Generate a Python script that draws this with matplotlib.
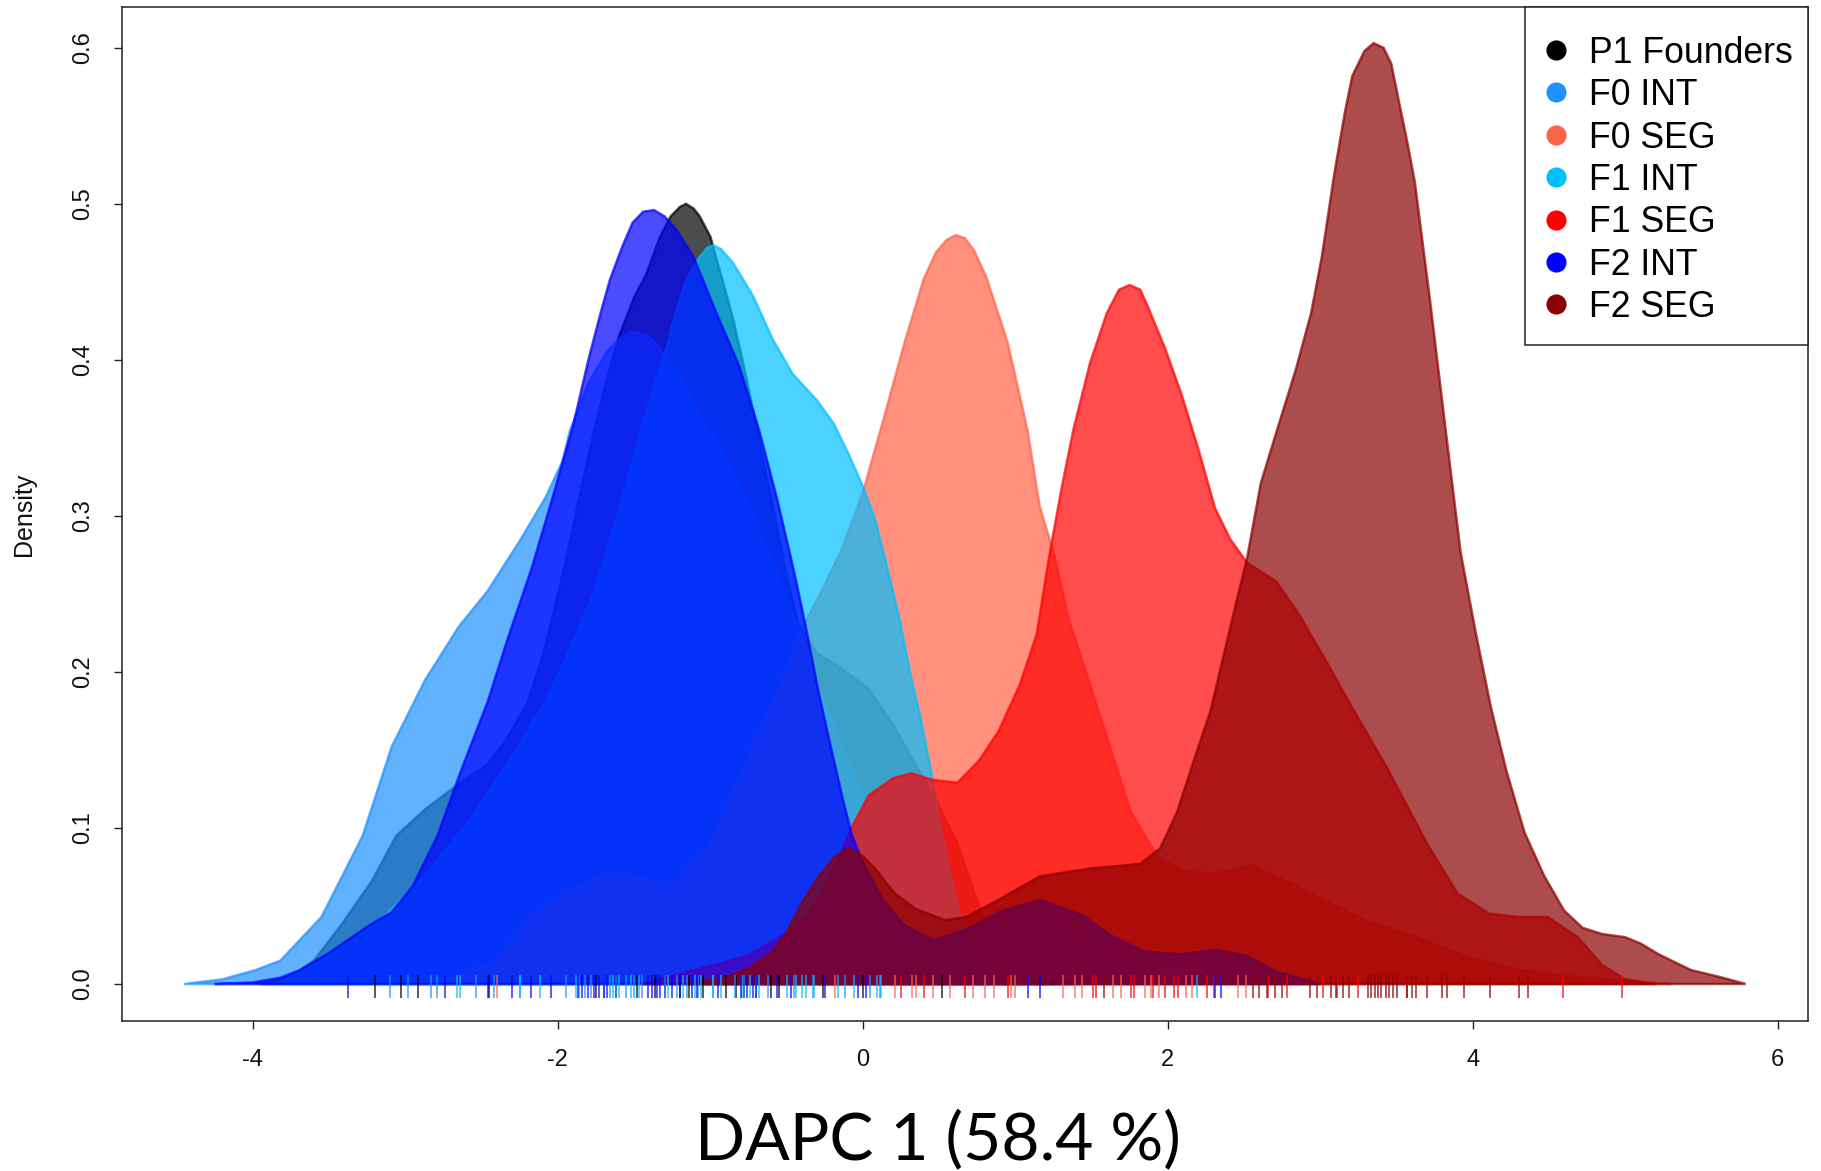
import matplotlib
matplotlib.use("Agg")
import matplotlib.pyplot as plt
from matplotlib.patches import Rectangle

# ---------------- data ----------------
groups = ["P1 Founders", "F0 INT", "F0 SEG", "F1 INT", "F1 SEG", "F2 INT", "F2 SEG"]
colors = ["#000000", "#1E90FF", "#FF6347", "#00BFFF", "#FF0000", "#0000FF", "#8B0000"]

p1_x = [-3.95, -3.75, -3.60, -3.42, -3.22, -3.06, -2.87, -2.68, -2.46, -2.35, -2.20, -2.10, -1.95, -1.82,
        -1.70, -1.60, -1.50, -1.42, -1.33, -1.26, -1.20, -1.16, -1.11, -1.07, -1.00, -0.92, -0.85, -0.76,
        -0.62, -0.50, -0.42, -0.30, -0.15, 0.04, 0.20, 0.36, 0.48, 0.62, 0.76, 0.89, 1.05, 1.25]
p1_y = [0.000, 0.005, 0.015, 0.038, 0.066, 0.095, 0.112, 0.126, 0.141, 0.155, 0.180, 0.210, 0.270, 0.330,
        0.380, 0.415, 0.440, 0.455, 0.479, 0.492, 0.498, 0.500, 0.497, 0.492, 0.479, 0.451, 0.426, 0.387,
        0.320, 0.262, 0.230, 0.212, 0.203, 0.189, 0.166, 0.138, 0.118, 0.090, 0.051, 0.018, 0.004, 0.000]

f0int_x = [-4.45, -4.20, -3.98, -3.82, -3.55, -3.28, -3.09, -2.87, -2.65, -2.46, -2.25, -2.08, -1.97, -1.92,
           -1.80, -1.68, -1.60, -1.51, -1.42, -1.35, -1.22, -1.10, -0.96, -0.83, -0.72, -0.62, -0.45, -0.25,
           0.00, 0.25, 0.50, 0.80, 1.10, 1.40]
f0int_y = [0.000, 0.003, 0.009, 0.015, 0.043, 0.095, 0.152, 0.195, 0.229, 0.252, 0.284, 0.312, 0.335, 0.355,
           0.385, 0.405, 0.413, 0.418, 0.416, 0.410, 0.392, 0.370, 0.347, 0.324, 0.300, 0.278, 0.235, 0.180,
           0.120, 0.070, 0.035, 0.012, 0.003, 0.000]

f0seg_x = [-2.95, -2.74, -2.40, -2.19, -2.00, -1.80, -1.65, -1.45, -1.24, -1.00, -0.83, -0.56, -0.42, -0.28,
           -0.14, 0.00, 0.13, 0.27, 0.40, 0.48, 0.55, 0.61, 0.67, 0.73, 0.81, 0.95, 1.08, 1.16, 1.25, 1.35,
           1.49, 1.63, 1.76, 1.93, 2.10, 2.31, 2.55, 2.84, 3.02, 3.29, 3.63, 3.97, 4.31, 4.63, 5.14, 5.30]
f0seg_y = [0.000, 0.003, 0.015, 0.043, 0.055, 0.066, 0.072, 0.068, 0.063, 0.090, 0.129, 0.187, 0.224, 0.250,
           0.278, 0.315, 0.360, 0.410, 0.452, 0.469, 0.477, 0.480, 0.478, 0.470, 0.453, 0.411, 0.355, 0.306,
           0.277, 0.234, 0.192, 0.149, 0.110, 0.082, 0.072, 0.071, 0.076, 0.063, 0.054, 0.041, 0.030, 0.017,
           0.009, 0.005, 0.001, 0.000]

f1int_x = [-3.85, -3.55, -3.14, -2.82, -2.55, -2.30, -2.08, -1.92, -1.76, -1.65, -1.54, -1.43, -1.29, -1.24,
           -1.16, -1.07, -1.02, -0.98, -0.93, -0.85, -0.72, -0.59, -0.46, -0.30, -0.19, -0.09, 0.00, 0.08,
           0.16, 0.24, 0.32, 0.38, 0.45, 0.51, 0.62, 0.73, 0.87, 1.00]
f1int_y = [0.000, 0.015, 0.043, 0.075, 0.109, 0.146, 0.181, 0.215, 0.252, 0.287, 0.324, 0.364, 0.407, 0.426,
           0.451, 0.466, 0.472, 0.4735, 0.471, 0.462, 0.441, 0.413, 0.391, 0.374, 0.359, 0.339, 0.319, 0.298,
           0.267, 0.234, 0.195, 0.170, 0.135, 0.100, 0.051, 0.018, 0.003, 0.000]

f1seg_x = [-1.45, -1.06, -0.76, -0.47, -0.30, -0.18, -0.07, 0.04, 0.20, 0.32, 0.45, 0.62, 0.76, 0.89, 1.03,
           1.14, 1.22, 1.30, 1.38, 1.49, 1.60, 1.68, 1.75, 1.82, 1.87, 1.98, 2.09, 2.20, 2.31, 2.41, 2.52,
           2.71, 2.86, 3.05, 3.21, 3.43, 3.70, 3.90, 4.11, 4.30, 4.49, 4.69, 4.85, 5.00, 5.20]
f1seg_y = [0.000, 0.010, 0.018, 0.034, 0.052, 0.075, 0.101, 0.121, 0.132, 0.135, 0.131, 0.129, 0.143, 0.162,
           0.192, 0.224, 0.273, 0.316, 0.355, 0.398, 0.430, 0.445, 0.448, 0.445, 0.434, 0.408, 0.378, 0.343,
           0.305, 0.285, 0.270, 0.258, 0.237, 0.205, 0.177, 0.140, 0.090, 0.058, 0.045, 0.043, 0.043, 0.030,
           0.012, 0.003, 0.000]

f2int_x = [-4.25, -4.00, -3.82, -3.69, -3.50, -3.23, -3.09, -2.95, -2.79, -2.63, -2.46, -2.33, -2.17, -2.04,
           -1.90, -1.80, -1.72, -1.66, -1.58, -1.51, -1.44, -1.37, -1.30, -1.22, -1.11, -0.96, -0.81, -0.68,
           -0.56, -0.45, -0.37, -0.29, -0.21, -0.13, -0.07, 0.00, 0.13, 0.27, 0.46, 0.68, 0.89, 1.16, 1.44,
           1.63, 1.84, 2.09, 2.31, 2.52, 2.71, 3.00]
f2int_y = [0.000, 0.001, 0.004, 0.009, 0.020, 0.038, 0.046, 0.063, 0.095, 0.138, 0.181, 0.221, 0.267, 0.310,
           0.358, 0.400, 0.430, 0.451, 0.472, 0.488, 0.495, 0.496, 0.492, 0.483, 0.466, 0.430, 0.396, 0.355,
           0.310, 0.264, 0.227, 0.187, 0.152, 0.118, 0.095, 0.078, 0.054, 0.038, 0.028, 0.035, 0.046, 0.054,
           0.044, 0.031, 0.021, 0.019, 0.022, 0.018, 0.008, 0.000]

f2seg_x = [-1.15, -0.90, -0.75, -0.60, -0.50, -0.40, -0.29, -0.18, -0.09, 0.00, 0.08, 0.21, 0.35, 0.54, 0.68,
           0.89, 1.16, 1.49, 1.82, 1.95, 2.06, 2.17, 2.28, 2.36, 2.44, 2.52, 2.61, 2.71, 2.84, 2.94, 3.01,
           3.09, 3.16, 3.21, 3.29, 3.35, 3.415, 3.465, 3.515, 3.57, 3.62, 3.72, 3.82, 3.92, 4.02, 4.12, 4.22,
           4.34, 4.47, 4.60, 4.72, 4.85, 5.00, 5.10, 5.22, 5.43, 5.64, 5.79]
f2seg_y = [0.000, 0.004, 0.010, 0.020, 0.033, 0.052, 0.069, 0.082, 0.087, 0.082, 0.074, 0.058, 0.048, 0.041,
           0.043, 0.054, 0.069, 0.074, 0.077, 0.087, 0.110, 0.143, 0.175, 0.208, 0.241, 0.273, 0.321, 0.353,
           0.394, 0.430, 0.466, 0.518, 0.558, 0.582, 0.598, 0.603, 0.600, 0.590, 0.566, 0.540, 0.514, 0.438,
           0.357, 0.277, 0.225, 0.177, 0.137, 0.097, 0.069, 0.047, 0.036, 0.032, 0.030, 0.026, 0.019, 0.009,
           0.004, 0.000]

p1_rug = [-3.20, -3.03, -2.92, -2.45, -1.75, -1.62, -1.48, -1.36, -1.30, -1.20, -1.14, -1.05, -0.90, -0.83,
          -0.78, -0.60, -0.55, -0.26, 0.00, 0.52]
f0int_rug = [-3.10, -2.98, -2.83, -2.79, -2.54, -2.42, -2.25, -1.95, -1.86, -1.82, -1.78, -1.70, -1.66, -1.62,
             -1.55, -1.50, -1.45, -1.30, -1.22, -1.15, -1.08, -0.98, -0.84, -0.78, -0.70, -0.62, -0.45, -0.33,
             -0.12, 0.05, 0.11]
f0seg_rug = [-2.40, -0.18, 0.21, 0.32, 0.35, 0.46, 0.57, 0.72, 0.80, 0.86, 0.97, 1.00, 1.31, 1.39, 1.44, 1.64,
             1.69, 1.85, 1.89, 1.94, 2.12, 2.16, 2.46, 2.51]
f1int_rug = [-2.66, -2.64, -2.25, -2.12, -1.88, -1.64, -1.60, -1.52, -1.47, -1.28, -1.18, -1.10, -1.06, -0.98,
             -0.93, -0.79, -0.74, -0.68, -0.50, -0.44, -0.40, -0.37, -0.32, -0.16, -0.06, 0.09, 0.12, 2.19]
f1seg_rug = [0.25, 0.40, 0.67, 0.95, 1.51, 1.53, 1.76, 1.78, 1.90, 1.98, 2.04, 2.07, 2.26, 2.30, 2.66, 2.78,
             3.02, 3.11, 3.25, 3.57, 4.59, 4.98]
f2int_rug = [-3.375, -2.741, -2.456, -2.303, -2.179, -2.048, -1.87, -1.84, -1.80, -1.76, -1.73, -1.70, -1.68,
             -1.41, -1.38, -1.35, -1.33, -1.25, -1.20, -1.12, -1.09, -0.95, -0.80, -0.76, -0.72, -0.70, -0.56,
             -0.47, -0.25, -0.03, 0.02, 1.08, 1.16, 2.31, 2.35]
f2seg_rug = [1.58, 2.56, 2.60, 2.65, 2.70, 2.75, 2.93, 2.98, 3.07, 3.10, 3.15, 3.19, 3.31, 3.33, 3.36, 3.38,
             3.40, 3.43, 3.45, 3.48, 3.50, 3.57, 3.60, 3.63, 3.70, 3.80, 3.83, 3.94, 4.11, 4.30, 4.36]

x_ticks = [-4, -2, 0, 2, 4, 6]
y_ticks = [0.0, 0.1, 0.2, 0.3, 0.4, 0.5, 0.6]
y_ticklabels = ["0.0", "0.1", "0.2", "0.3", "0.4", "0.5", "0.6"]
x_label = "DAPC 1 (58.4 %)"
y_label = "Density"

curves = [(p1_x, p1_y), (f0int_x, f0int_y), (f0seg_x, f0seg_y), (f1int_x, f1int_y),
          (f1seg_x, f1seg_y), (f2int_x, f2int_y), (f2seg_x, f2seg_y)]
rugs = [p1_rug, f0int_rug, f0seg_rug, f1int_rug, f1seg_rug, f2int_rug, f2seg_rug]

# ---------------- figure ----------------
plt.rcParams["font.family"] = ["Liberation Sans", "DejaVu Sans"]
fig = plt.figure(figsize=(18.21, 11.71), dpi=100, facecolor="white")
ax = fig.add_axes([0.06696, 0.12798, 0.92602, 0.86607])

for (cx, cy), col in zip(curves, colors):
    ax.fill(list(cx) + [cx[-1], cx[0]], list(cy) + [0.0, 0.0],
            facecolor=col, edgecolor=col, alpha=0.7, linewidth=1.8, zorder=2)

for r, col in zip(rugs, colors):
    ax.vlines(r, -0.0092, 0.0055, colors=col, linewidth=1.3, alpha=0.7, zorder=3)

ax.set_xlim(-4.859, 6.200)
ax.set_ylim(-0.0238, 0.6262)
ax.set_xticks(x_ticks)
ax.set_xticklabels([str(t) for t in x_ticks])
ax.set_yticks(y_ticks)
ax.set_yticklabels(y_ticklabels, rotation=90, va="center")
ax.tick_params(axis="both", direction="out", length=6, width=1.0, color="#222222",
               labelsize=17, labelcolor="#111111")
ax.tick_params(axis="x", pad=14)
ax.tick_params(axis="y", pad=14)
for sp in ax.spines.values():
    sp.set_linewidth(1.1)
    sp.set_color("#222222")

ax.set_ylabel(y_label, fontsize=18, color="#111111")
ax.yaxis.set_label_coords(-0.051, 0.5)

# ---------------- legend (R style, top-right box) ----------------
fs_leg = 25.7
box_left, box_bottom = 0.8320, 0.6667
ax.add_patch(Rectangle((box_left, box_bottom), 1.0 - box_left, 1.0 - box_bottom,
                       transform=ax.transAxes, facecolor="white", edgecolor="#222222",
                       linewidth=1.1, zorder=5, clip_on=False))
row0, pitch = 0.9576, 0.04181
cap_off = 0.0126
for i, (name, col) in enumerate(zip(groups, colors)):
    yy = row0 - i * pitch
    ax.plot([0.8506], [yy], marker="o", markersize=13.5, color=col, linestyle="none",
            transform=ax.transAxes, zorder=6, clip_on=False)
    ax.text(0.8698, yy - cap_off, name, transform=ax.transAxes, ha="left", va="baseline",
            fontsize=fs_leg, color="black", zorder=6)

fig.text(0.515, 0.0099, x_label, ha="center", va="baseline",
         fontsize=47.5, family=["Lato", "DejaVu Sans"], color="black")

fig.savefig("out.png", dpi=100, facecolor="white")
